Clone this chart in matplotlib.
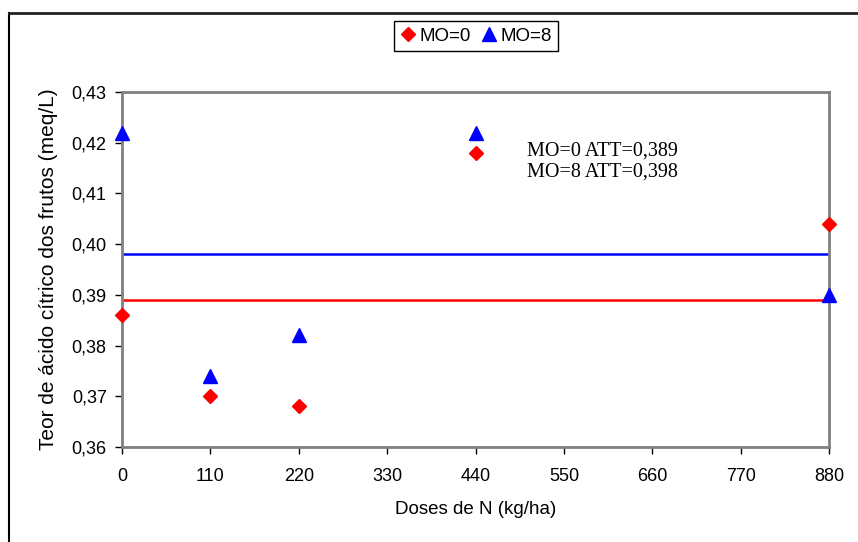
import matplotlib.pyplot as plt
from matplotlib.lines import Line2D
from matplotlib.ticker import FuncFormatter

doses = [0, 110, 220, 440, 880]
mo0 = [0.386, 0.370, 0.368, 0.418, 0.404]
mo8 = [0.422, 0.374, 0.382, 0.422, 0.390]
att_mo0 = 0.389
att_mo8 = 0.398
x_ticks = [0, 110, 220, 330, 440, 550, 660, 770, 880]
y_ticks = [0.36, 0.37, 0.38, 0.39, 0.40, 0.41, 0.42, 0.43]

plt.rcParams['font.family'] = ['Liberation Sans', 'DejaVu Sans']

fig = plt.figure(figsize=(8.58, 5.42), dpi=100)
ax = fig.add_axes([0.1422, 0.1753, 0.8240, 0.6550])

# mean lines
ax.plot([0, 880], [att_mo8, att_mo8], color='#0000ff', lw=1.8, zorder=2)
ax.plot([0, 880], [att_mo0, att_mo0], color='#ff0000', lw=1.8, zorder=2)

ax.plot(doses, mo0, linestyle='none', marker='D', ms=7.5, color='#ff0000',
        label='MO=0', clip_on=False, zorder=3)
ax.plot(doses, mo8, linestyle='none', marker='^', ms=10, color='#0000ff',
        label='MO=8', clip_on=False, zorder=3)

ax.set_xlim(0, 880)
ax.set_ylim(0.36, 0.43)
ax.set_xticks(x_ticks)
ax.set_yticks(y_ticks)
ax.yaxis.set_major_formatter(FuncFormatter(lambda v, p: f'{v:.2f}'.replace('.', ',')))
ax.tick_params(axis='both', direction='out', length=5, width=1, color='black',
               labelsize=13)
ax.tick_params(axis='x', pad=10)
ax.tick_params(axis='y', pad=6)

for s in ax.spines.values():
    s.set_color('#808080')
    s.set_linewidth(2)

ax.set_xlabel('Doses de N (kg/ha)', fontsize=13.5, labelpad=12)
ax.set_ylabel('Teor de ácido cítrico dos frutos (meq/L)', fontsize=15, labelpad=10)

ax.text(504, 0.4162, 'MO=0 ATT=0,389\nMO=8 ATT=0,398', family='Liberation Serif',
        fontsize=14.5, linespacing=1.15, va='center', ha='left')

leg = fig.legend(loc='center', bbox_to_anchor=(0.5548, 0.9336), ncol=2, fontsize=13.5,
                 frameon=True, fancybox=False, edgecolor='black', framealpha=1,
                 handlelength=0.8, handletextpad=0.2, columnspacing=0.6,
                 borderpad=0.35)
leg.get_frame().set_linewidth(1)

# outer frame
fig.add_artist(Line2D([9 / 858, 9 / 858], [0, 1 - 13 / 542], color='black', lw=1.5,
                      transform=fig.transFigure))
fig.add_artist(Line2D([9 / 858, 1], [1 - 13 / 542, 1 - 13 / 542], color='#222222', lw=2,
                      transform=fig.transFigure))

fig.savefig('out.png', dpi=100)
